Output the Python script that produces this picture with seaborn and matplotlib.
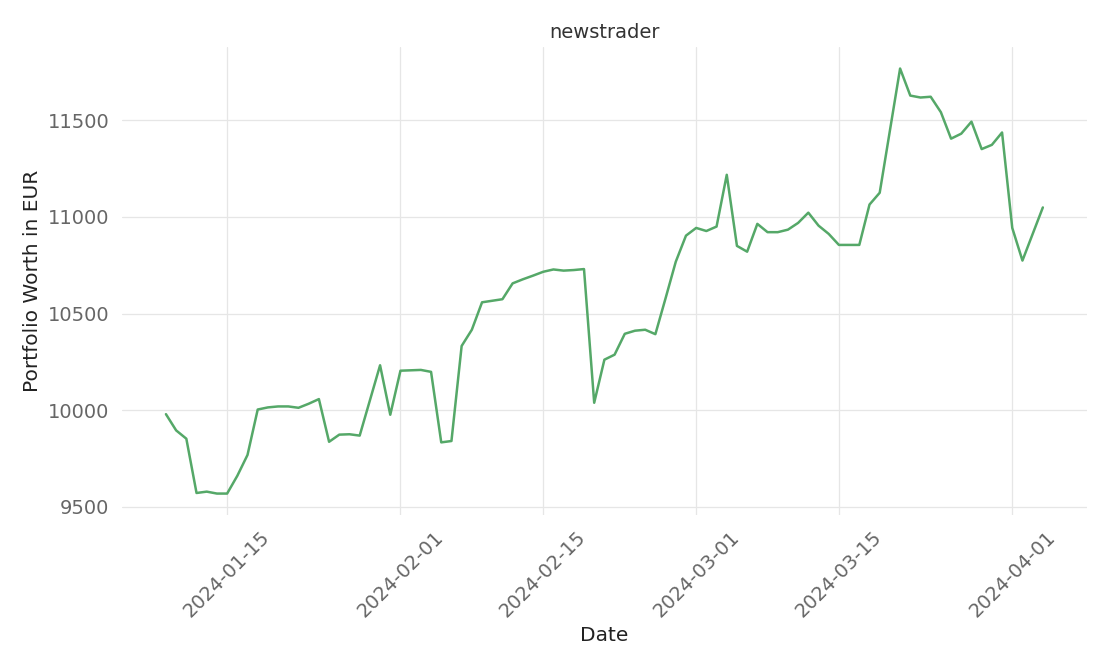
import pandas as pd
import matplotlib
matplotlib.use("Agg")
import matplotlib.pyplot as plt
import seaborn as sns

# portfolio worth per day
dates = [
    "2024-01-09", "2024-01-10", "2024-01-11", "2024-01-12", "2024-01-13", "2024-01-14",
    "2024-01-15", "2024-01-16", "2024-01-17", "2024-01-18", "2024-01-19", "2024-01-20",
    "2024-01-21", "2024-01-22", "2024-01-23", "2024-01-24", "2024-01-25", "2024-01-26",
    "2024-01-27", "2024-01-28", "2024-01-30", "2024-01-31", "2024-02-01", "2024-02-02",
    "2024-02-03", "2024-02-04", "2024-02-05", "2024-02-06", "2024-02-07", "2024-02-08",
    "2024-02-09", "2024-02-10", "2024-02-11", "2024-02-12", "2024-02-13", "2024-02-14",
    "2024-02-15", "2024-02-16", "2024-02-17", "2024-02-18", "2024-02-19", "2024-02-20",
    "2024-02-21", "2024-02-22", "2024-02-23", "2024-02-24", "2024-02-25", "2024-02-26",
    "2024-02-27", "2024-02-28", "2024-02-29", "2024-03-01", "2024-03-02", "2024-03-03",
    "2024-03-04", "2024-03-05", "2024-03-06", "2024-03-07", "2024-03-08", "2024-03-09",
    "2024-03-10", "2024-03-11", "2024-03-12", "2024-03-13", "2024-03-14", "2024-03-15",
    "2024-03-16", "2024-03-17", "2024-03-18", "2024-03-19", "2024-03-21", "2024-03-22",
    "2024-03-23", "2024-03-24", "2024-03-25", "2024-03-26", "2024-03-27", "2024-03-28",
    "2024-03-29", "2024-03-30", "2024-03-31", "2024-04-01", "2024-04-02", "2024-04-04",
]
worth = [
    9979, 9895, 9852, 9571, 9578, 9568,
    9568, 9660, 9768, 10003, 10014, 10019,
    10019, 10012, 10033, 10057, 9836, 9873,
    9875, 9868, 10232, 9976, 10204, 10206,
    10208, 10198, 9833, 9840, 10332, 10416,
    10558, 10566, 10574, 10656, 10677, 10696,
    10716, 10728, 10722, 10725, 10730, 10038,
    10261, 10287, 10395, 10411, 10416, 10393,
    10579, 10768, 10903, 10943, 10927, 10950,
    11218, 10850, 10820, 10964, 10921, 10921,
    10934, 10969, 11022, 10955, 10912, 10855,
    10855, 10855, 11064, 11125, 11768, 11628,
    11618, 11622, 11542, 11405, 11431, 11493,
    11351, 11373, 11437, 10943, 10774, 11049,
]

df = pd.DataFrame({"Date": pd.to_datetime(dates), "worth": worth})

sns.set_theme(style="whitegrid")
plt.rcParams["font.family"] = ["DejaVu Sans"]

fig, ax = plt.subplots(figsize=(11.1, 6.66), dpi=100)
fig.subplots_adjust(left=0.110, right=0.979, top=0.929, bottom=0.227)

sns.lineplot(data=df, x="Date", y="worth", color="#55a868", linewidth=1.8, ax=ax)

ax.set_title("newstrader", fontsize=14, color="#333333", pad=6.5)
ax.set_xlabel("Date", fontsize=14.5, color="#222222")
ax.set_ylabel("Portfolio Worth in EUR", fontsize=14.5, color="#222222")
ax.tick_params(axis="both", labelsize=14, labelcolor="#666666", length=0, pad=9)
plt.xticks(rotation=45)

ax.grid(True, color="#e6e6e6", linewidth=0.9)
for s in ax.spines.values():
    s.set_visible(False)

fig.savefig("out.png", dpi=100)
